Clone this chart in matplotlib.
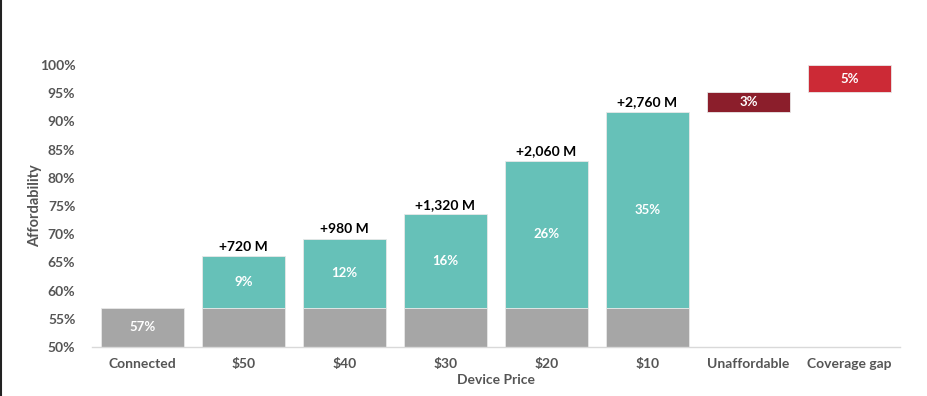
import matplotlib
matplotlib.use("Agg")
import matplotlib.pyplot as plt
from matplotlib.lines import Line2D

categories = ["Connected", "$50", "$40", "$30", "$20", "$10", "Unaffordable", "Coverage gap"]
connected = 57.0
increments = [9.1, 12.2, 16.5, 26.0, 34.7]
increment_labels = ["9%", "12%", "16%", "26%", "35%"]
people_labels = ["+720 M", "+980 M", "+1,320 M", "+2,060 M", "+2,760 M"]
unaffordable = 3.5
coverage_gap = 4.8
connected_label = "57%"
unaffordable_label = "3%"
coverage_label = "5%"
yticks = [50, 55, 60, 65, 70, 75, 80, 85, 90, 95, 100]

plt.rcParams['font.family'] = ['Lato', 'DejaVu Sans']

GRAY = "#A6A6A6"
TEAL = "#66C1B8"
DARKRED = "#8B1E2B"
RED = "#CC2A36"
TICK = "#555555"

fig = plt.figure(figsize=(9.28, 3.96), dpi=100)
ax = fig.add_axes([92/928, 1-347/396, 808/928, 282/396])

x = list(range(len(categories)))
w = 0.83
ymin = 50
edge = dict(edgecolor="#E8E8E8", linewidth=0.6)

for i in range(6):
    ax.bar(x[i], connected - ymin, bottom=ymin, width=w, color=GRAY, **edge)
ax.text(x[0], (connected + ymin) / 2 + 0.1, connected_label, ha="center", va="center",
        color="white", fontsize=9.5, fontweight="bold")

for k, inc in enumerate(increments):
    i = k + 1
    ax.bar(x[i], inc, bottom=connected, width=w, color=TEAL, **edge)
    ax.text(x[i], connected + inc / 2, increment_labels[k], ha="center", va="center",
            color="white", fontsize=9.5, fontweight="bold")
    ax.text(x[i], connected + inc + 0.6, people_labels[k], ha="center", va="bottom",
            color="black", fontsize=10, fontweight="bold")

top = connected + increments[-1]
ax.bar(x[6], unaffordable, bottom=top, width=w, color=DARKRED, **edge)
ax.text(x[6], top + unaffordable / 2, unaffordable_label, ha="center", va="center",
        color="white", fontsize=9.5, fontweight="bold")
top2 = top + unaffordable
ax.bar(x[7], coverage_gap, bottom=top2, width=w, color=RED, **edge)
ax.text(x[7], top2 + coverage_gap / 2, coverage_label, ha="center", va="center",
        color="white", fontsize=9.5, fontweight="bold")

ax.set_xlim(-0.5, 7.5)
ax.set_ylim(50, 100)
ax.set_yticks(yticks)
ax.set_yticklabels([f"{v}%" for v in yticks])
ax.set_xticks(x)
ax.set_xticklabels(categories)
for lab in ax.get_xticklabels():
    lab.set_fontsize(10)
    lab.set_fontweight("bold")
    lab.set_color(TICK)
for lab in ax.get_yticklabels():
    lab.set_fontsize(10)
    lab.set_fontweight("bold")
    lab.set_color(TICK)
ax.tick_params(axis="both", length=0)
ax.tick_params(axis="y", pad=12)
ax.tick_params(axis="x", pad=8)
for s in ["top", "right", "left"]:
    ax.spines[s].set_visible(False)
ax.spines["bottom"].set_color("#D9D9D9")
ax.spines["bottom"].set_linewidth(1)

ax.set_ylabel("Affordability", fontsize=10.5, fontweight="bold", color=TICK)
ax.yaxis.set_label_coords(-0.062, 0.5)
ax.set_xlabel("Device Price", fontsize=10, fontweight="bold", color=TICK, labelpad=3)

fig.add_artist(Line2D([0.0015, 0.0015], [0, 1], transform=fig.transFigure, color="#222222", linewidth=1.5))

fig.savefig("out.png", dpi=100)
